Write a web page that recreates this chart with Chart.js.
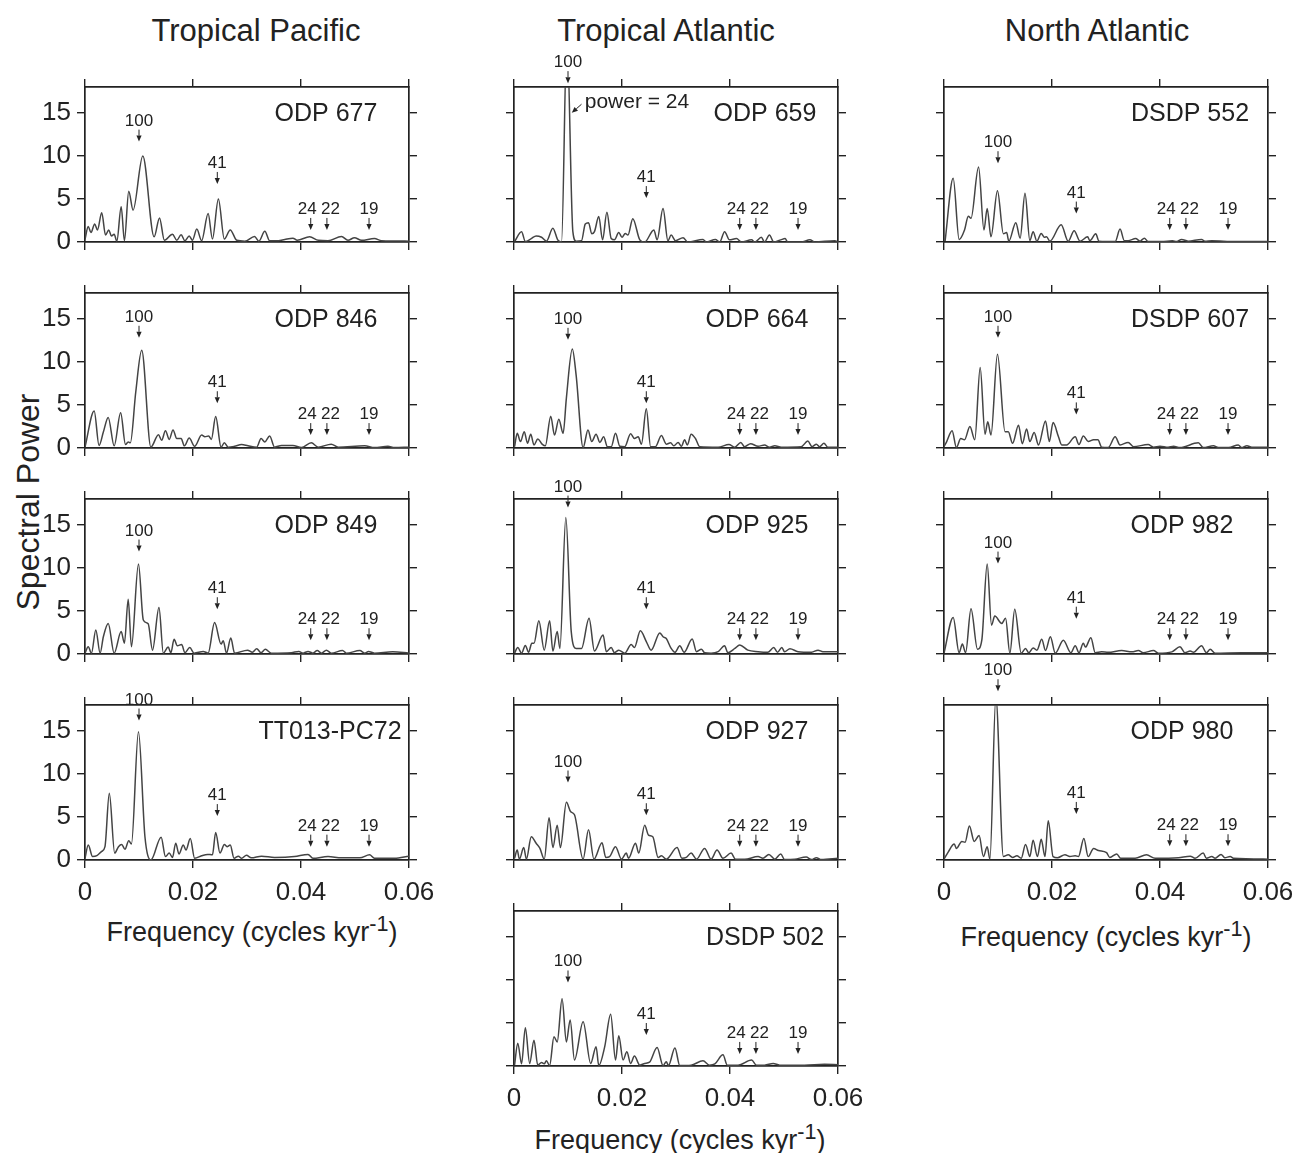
<!DOCTYPE html>
<html>
<head>
<meta charset="utf-8">
<script src="https://cdn.jsdelivr.net/npm/chart.js@4.4.1/dist/chart.umd.min.js"></script>
<style>
body
{
    margin: 0;
    background: #fff;
    width: 1296px;
    height: 1153px;
    position: relative;
    overflow: hidden;
    font-family: "Liberation Sans", Arial, Helvetica, sans-serif;
    color: #222;
}
canvas
{
    position: absolute;
}
.txt
{
    position: absolute;
    white-space: nowrap;
    transform: translate(-50%, -50%);
    line-height: 1;
}
.txt sup
{
    font-size: 0.8em;
    line-height: 0;
    vertical-align: 0.45em;
}
</style>
</head>
<body>
<div class="txt" style="left:256px;top:30px;font-size:31px">Tropical Pacific</div>
<div class="txt" style="left:666px;top:30px;font-size:31px">Tropical Atlantic</div>
<div class="txt" style="left:1097px;top:30px;font-size:31px">North Atlantic</div>
<div class="txt" style="left:28px;top:502px;font-size:32px;transform:translate(-50%,-50%) rotate(-90deg)">Spectral Power</div>
<div class="txt" style="left:252px;top:932px;font-size:27px">Frequency (cycles kyr<sup>-1</sup>)</div>
<div class="txt" style="left:680px;top:1140px;font-size:27px">Frequency (cycles kyr<sup>-1</sup>)</div>
<div class="txt" style="left:1106px;top:937px;font-size:27px">Frequency (cycles kyr<sup>-1</sup>)</div>

<script>
const xTickValues = [0, 0.02, 0.04, 0.06];
const xTickLabels = ["0", "0.02", "0.04", "0.06"];
const yTickValues = [0, 5, 10, 15];
const yTickLabels = ["0", "5", "10", "15"];

// periods (kyr) and the frequencies their arrows point at
const periodLabels = ["100", "41", "24", "22", "19"];
const periodFreqs = [0.0100, 0.0245, 0.0418, 0.0448, 0.0526];

// spectral power, [frequency, power]
const odp677 = [[0,0.3],[0.0006,1.8],[0.0011,1.1],[0.0018,2.1],[0.0023,1.4],[0.0031,3.4],[0.0038,0.8],[0.0044,1.4],[0.0049,0.7],[0.0054,0.9],[0.0059,0.1],[0.0067,4.1],[0.0073,0.15],[0.0081,5.9],[0.0089,3.7],[0.0107,10.0],[0.0128,0.6],[0.0138,2.8],[0.0147,0.2],[0.0162,0.9],[0.0170,0.2],[0.0178,0.85],[0.0185,0.15],[0.0193,0.7],[0.0199,0.2],[0.0207,1.5],[0.0216,0.15],[0.0228,3.3],[0.0236,0.35],[0.0247,5.0],[0.0258,0.35],[0.0269,1.4],[0.0281,0.2],[0.0296,0.1],[0.0314,0.65],[0.0322,0.1],[0.0333,1.25],[0.0342,0.15],[0.0358,0.15],[0.0370,0.3],[0.0385,0.45],[0.0393,0.2],[0.0416,0.6],[0.0432,0.2],[0.0450,0.15],[0.0475,0.65],[0.0487,0.2],[0.0499,0.5],[0.0512,0.2],[0.0536,0.4],[0.0549,0.15],[0.0600,0.1]];

const odp846 = [[0,0.1],[0.0017,4.3],[0.0026,0.3],[0.0034,1.85],[0.0043,3.55],[0.0054,0.25],[0.0066,4.1],[0.0075,0.4],[0.0080,0.7],[0.0084,0.6],[0.0094,6.5],[0.0105,11.35],[0.0122,0.1],[0.0136,1.55],[0.0142,0.9],[0.0149,2.0],[0.0156,1.0],[0.0163,2.1],[0.0170,1.1],[0.0178,1.1],[0.0184,0.25],[0.0193,1.15],[0.0203,0.2],[0.0216,1.5],[0.0222,1.3],[0.0229,1.4],[0.0234,1.0],[0.0242,3.65],[0.0252,0.1],[0.0258,0.6],[0.0265,0.1],[0.0277,0.2],[0.0290,0.4],[0.0302,0.25],[0.0318,0.1],[0.0326,1.1],[0.0333,0.7],[0.0342,1.4],[0.0351,0.1],[0.0364,0.3],[0.0385,0.3],[0.0401,0.05],[0.0419,0.6],[0.0432,0.1],[0.0456,0.45],[0.0469,0.1],[0.0518,0.25],[0.0536,0.05],[0.0561,0.2],[0.0573,0.05],[0.0600,0.1]];

const odp849 = [[0,0.1],[0.0006,0.85],[0.0012,0.1],[0.0020,2.8],[0.0028,0.1],[0.0034,2.0],[0.0043,3.55],[0.0054,0.1],[0.0067,2.6],[0.0073,1.25],[0.0080,6.35],[0.0086,0.85],[0.0099,10.45],[0.0108,3.95],[0.0117,3.5],[0.0125,0.45],[0.0137,5.4],[0.0145,0.1],[0.0154,0.8],[0.0159,0.15],[0.0165,1.7],[0.0171,0.95],[0.0179,1.1],[0.0185,0.15],[0.0194,0.75],[0.0202,0.1],[0.0219,0.3],[0.0228,0.1],[0.0240,3.65],[0.0252,1.15],[0.0256,1.55],[0.0262,0.1],[0.0270,1.85],[0.0277,0.1],[0.0301,0.45],[0.0310,0.2],[0.0318,0.6],[0.0326,0.15],[0.0334,0.55],[0.0345,0.1],[0.0382,0.15],[0.0396,0.3],[0.0404,0.1],[0.0413,0.3],[0.0422,0.1],[0.0430,0.4],[0.0438,0.1],[0.0447,0.45],[0.0456,0.1],[0.0477,0.4],[0.0484,0.1],[0.0509,0.4],[0.0518,0.1],[0.0525,0.3],[0.0536,0.1],[0.0570,0.25],[0.0600,0.1]];

const tt013pc72 = [[0,0.2],[0.0006,1.75],[0.0014,0.4],[0.0022,0.5],[0.0031,1.0],[0.0037,1.55],[0.0045,7.75],[0.0055,0.8],[0.0062,1.55],[0.0068,1.8],[0.0074,1.25],[0.0081,2.25],[0.0086,1.85],[0.0099,14.9],[0.0111,2.7],[0.0122,0],[0.0141,2.65],[0.0149,0.4],[0.0156,0.8],[0.0162,0.3],[0.0168,1.95],[0.0174,0.7],[0.0182,1.75],[0.0187,1.15],[0.0195,2.5],[0.0203,0.2],[0.0216,0.5],[0.0227,0.65],[0.0236,0.6],[0.0242,3.2],[0.0250,0.8],[0.0258,1.8],[0.0263,1.55],[0.0269,1.75],[0.0276,0.2],[0.0284,0.45],[0.0290,0.2],[0.0299,0.55],[0.0308,0.25],[0.0327,0.45],[0.0351,0.3],[0.0388,0.4],[0.0413,0.65],[0.0422,0.2],[0.0450,0.4],[0.0475,0.25],[0.0509,0.25],[0.0527,0.6],[0.0536,0.2],[0.0573,0.2],[0.0600,0.45]];

const odp659 = [[0.0001,0.05],[0.0014,1.2],[0.0021,0.05],[0.0032,0.4],[0.0041,0.7],[0.0051,0.55],[0.0060,0.1],[0.0072,1.6],[0.0081,0.25],[0.0088,0],[0.0098,24],[0.0109,1.2],[0.0115,0.1],[0.0125,0.15],[0.0132,2.1],[0.0138,2.25],[0.0144,0.95],[0.0149,1.2],[0.0157,2.95],[0.0164,0.25],[0.0172,3.45],[0.0180,0.4],[0.0186,0.25],[0.0194,1.1],[0.0200,0.55],[0.0206,1.0],[0.0211,0.8],[0.0220,2.7],[0.0233,0.25],[0.0242,0],[0.0259,1.4],[0.0265,0.25],[0.0276,3.9],[0.0285,0.15],[0.0291,0.8],[0.0299,0.15],[0.0313,0.5],[0.0322,0],[0.0350,0.3],[0.0356,0],[0.0373,0.3],[0.0381,0],[0.0390,1.2],[0.0399,0.25],[0.0412,0.4],[0.0421,0],[0.0440,0.25],[0.0446,0],[0.0458,0.55],[0.0464,0],[0.0473,0.8],[0.0481,0],[0.0494,0.25],[0.0502,0.4],[0.0507,0],[0.0532,0],[0.0548,0.25],[0.0557,0],[0.0594,0.15],[0.0600,0]];

const odp664 = [[0.0001,0.15],[0.0006,1.7],[0.0012,0.75],[0.0019,1.9],[0.0025,0.55],[0.0031,1.6],[0.0037,0.35],[0.0044,1.05],[0.0052,0.45],[0.0058,0.25],[0.0068,3.7],[0.0075,1.5],[0.0083,3.35],[0.0091,1.7],[0.0097,5.8],[0.0108,11.5],[0.0115,8.5],[0.0128,0.05],[0.0137,2.1],[0.0144,0.75],[0.0152,1.6],[0.0159,0.65],[0.0166,1.3],[0.0173,0.15],[0.0180,0.15],[0.0188,1.7],[0.0196,0.2],[0.0205,0.15],[0.0216,1.65],[0.0223,1.1],[0.0230,1.3],[0.0236,0.45],[0.0245,4.55],[0.0253,0.15],[0.0262,0.15],[0.0273,1.45],[0.0282,0.45],[0.0290,0.6],[0.0296,0.25],[0.0304,0.65],[0.0310,0.2],[0.0316,0.95],[0.0321,0.35],[0.0328,1.6],[0.0336,1.1],[0.0344,0.15],[0.0378,0.1],[0.0398,0.4],[0.0409,0.1],[0.0420,0.65],[0.0427,0.15],[0.0438,0.5],[0.0452,0.2],[0.0464,0.35],[0.0473,0.1],[0.0483,0.25],[0.0495,0.1],[0.0532,0.15],[0.0544,0.8],[0.0552,0.15],[0.0560,0.45],[0.0566,0.15],[0.0574,0.55],[0.0581,0.1],[0.0600,0.1]];

const odp925 = [[0.0001,0.1],[0.0007,0.75],[0.0014,0.1],[0.0021,1.0],[0.0027,0.2],[0.0033,1.25],[0.0037,1.25],[0.0046,3.85],[0.0056,0.45],[0.0066,3.85],[0.0072,0.35],[0.0080,2.6],[0.0085,0.65],[0.0096,15.85],[0.0106,2.6],[0.0115,0.65],[0.0125,0.65],[0.0139,4.15],[0.0149,0.35],[0.0165,2.2],[0.0171,0.27],[0.0180,0.75],[0.0186,0.15],[0.0194,0.45],[0.0205,0.1],[0.0217,1.1],[0.0223,0.75],[0.0234,2.7],[0.0245,1.45],[0.0254,0.45],[0.0270,2.45],[0.0276,2.0],[0.0282,1.8],[0.0291,0.65],[0.0298,0.2],[0.0307,0.95],[0.0315,0.2],[0.0330,1.75],[0.0338,0.27],[0.0347,0.55],[0.0353,0.15],[0.0365,0.1],[0.0378,0.27],[0.0390,0.95],[0.0396,0.15],[0.0409,0.65],[0.0418,1.05],[0.0433,0.45],[0.0452,0.27],[0.0470,0.2],[0.0481,0.75],[0.0488,0.2],[0.0496,0.75],[0.0501,0.27],[0.0511,0.6],[0.0526,0.27],[0.0551,0.2],[0.0563,0.45],[0.0572,0.27],[0.0600,0.27]];

const odp927 = [[0.0001,0.2],[0.0006,1.15],[0.0010,0.1],[0.0018,1.45],[0.0023,0.1],[0.0032,2.7],[0.0041,1.95],[0.0048,1.35],[0.0056,0.1],[0.0065,4.9],[0.0072,1.45],[0.0080,4.05],[0.0086,1.45],[0.0097,6.7],[0.0105,5.6],[0.0112,5.25],[0.0128,0.1],[0.0138,3.5],[0.0148,0.1],[0.0163,2.0],[0.0170,0.3],[0.0177,0.4],[0.0188,1.55],[0.0199,0.1],[0.0208,0.8],[0.0212,0.2],[0.0225,1.95],[0.0231,0.8],[0.0242,4.05],[0.0249,2.9],[0.0257,2.7],[0.0267,0.3],[0.0273,0.5],[0.0282,0.1],[0.0302,1.45],[0.0311,0.2],[0.0319,0.3],[0.0328,0.8],[0.0338,0.1],[0.0353,1.35],[0.0365,0.1],[0.0376,1.15],[0.0387,0.2],[0.0402,0.8],[0.0410,0.1],[0.0427,0.08],[0.0452,0.4],[0.0461,0.2],[0.0472,0.65],[0.0483,0.1],[0.0494,0.7],[0.0501,0.05],[0.0520,0.1],[0.0541,0.35],[0.0551,0.05],[0.0560,0.27],[0.0569,0.05],[0.0600,0.2]];

const dsdp502 = [[0.0001,0.1],[0.0007,2.65],[0.0014,0.25],[0.0021,4.45],[0.0029,0.3],[0.0037,3.0],[0.0044,0.1],[0.0051,0.4],[0.0056,0.25],[0.0060,0.6],[0.0066,0.05],[0.0074,3.4],[0.0080,2.8],[0.0089,7.8],[0.0097,2.8],[0.0104,5.35],[0.0112,0.7],[0.0128,5.15],[0.0142,0.3],[0.0152,2.25],[0.0157,0.05],[0.0168,2.25],[0.0179,6.0],[0.0188,0.7],[0.0194,3.5],[0.0202,0.7],[0.0209,1.65],[0.0216,0.3],[0.0223,1.15],[0.0233,0.1],[0.0242,0.3],[0.0251,0.45],[0.0265,2.15],[0.0276,0.05],[0.0282,0.5],[0.0286,0.05],[0.0298,2.1],[0.0307,0.05],[0.0328,0.1],[0.0350,0.6],[0.0362,0.1],[0.0372,0.25],[0.0387,1.3],[0.0395,0.1],[0.0415,0.1],[0.0440,0.7],[0.0449,0.1],[0.0464,0.1],[0.0480,0.3],[0.0492,0.1],[0.0538,0.1],[0.0575,0.2],[0.0600,0.15]];

const dsdp552 = [[0.0002,0.1],[0.0017,7.4],[0.0028,0.3],[0.0038,1.4],[0.0045,3.0],[0.0050,2.75],[0.0064,8.7],[0.0074,1.4],[0.0080,3.9],[0.0087,0.6],[0.0099,5.95],[0.0110,0.95],[0.0116,1.1],[0.0120,0.1],[0.0133,2.25],[0.0141,0.45],[0.0150,5.65],[0.0159,0.15],[0.0165,1.2],[0.0172,0.1],[0.0180,1.0],[0.0186,0.55],[0.0190,0.6],[0.0196,0.1],[0.0217,2.0],[0.0230,0.1],[0.0241,1.3],[0.0252,0.1],[0.0266,0.6],[0.0270,0.15],[0.0281,0.95],[0.0287,0.1],[0.0317,0.05],[0.0326,1.5],[0.0334,0.15],[0.0341,0.15],[0.0355,0.4],[0.0363,0.1],[0.0371,0.45],[0.0378,0.05],[0.0403,0.05],[0.0423,0.15],[0.0431,0.05],[0.0440,0.3],[0.0452,0.1],[0.0477,0.3],[0.0483,0.1],[0.0496,0.15],[0.0539,0.05],[0.0600,0.05]];

const dsdp607 = [[0,0.15],[0.0005,0.75],[0.0015,2.0],[0.0023,0.05],[0.0031,1.1],[0.0038,0.95],[0.0048,2.5],[0.0057,0.95],[0.0067,9.35],[0.0076,1.6],[0.0081,3.05],[0.0087,1.5],[0.0099,10.9],[0.0113,1.9],[0.0119,1.9],[0.0127,0.55],[0.0138,2.65],[0.0145,0.5],[0.0153,2.2],[0.0159,0.75],[0.0167,1.8],[0.0175,0.35],[0.0188,3.15],[0.0195,0.75],[0.0202,2.95],[0.0212,1.3],[0.0218,0.35],[0.0227,0.35],[0.0243,1.3],[0.0250,0.4],[0.0258,1.4],[0.0267,0.75],[0.0277,0.95],[0.0285,0.95],[0.0292,0.1],[0.0304,0.05],[0.0317,1.3],[0.0326,0.35],[0.0341,0.65],[0.0351,0.15],[0.0378,0.4],[0.0388,0.1],[0.0400,0.2],[0.0415,0.08],[0.0425,0.2],[0.0437,0.05],[0.0471,0.6],[0.0480,0.05],[0.0499,0.25],[0.0508,0.05],[0.0527,0.05],[0.0545,0.35],[0.0551,0.05],[0.0561,0.27],[0.0570,0.08],[0.0600,0.08]];

const odp982 = [[0,0.1],[0.0017,4.25],[0.0028,0.15],[0.0034,1.15],[0.0040,0.15],[0.0050,5.25],[0.0062,0.55],[0.0070,1.6],[0.0080,10.45],[0.0088,3.35],[0.0094,4.4],[0.0107,3.55],[0.0114,4.15],[0.0122,0.1],[0.0131,5.2],[0.0143,0.1],[0.0151,0.65],[0.0157,0.15],[0.0165,0.7],[0.0172,0.45],[0.0181,1.7],[0.0188,0.4],[0.0197,2.0],[0.0206,0.1],[0.0221,1.6],[0.0235,0.15],[0.0243,0.95],[0.0250,0.15],[0.0258,1.25],[0.0262,0.8],[0.0272,1.9],[0.0280,0.15],[0.0292,0.25],[0.0304,0.2],[0.0329,0.4],[0.0348,0.25],[0.0360,0.4],[0.0369,0.15],[0.0388,0.4],[0.0397,0.1],[0.0422,0.25],[0.0437,0.85],[0.0446,0.15],[0.0456,0.35],[0.0462,0.2],[0.0477,0.95],[0.0486,0.15],[0.0493,0.55],[0.0502,0.1],[0.0551,0.15],[0.0600,0.15]];

const odp980 = [[0,0.1],[0.0008,0.95],[0.0019,1.85],[0.0023,1.35],[0.0033,2.15],[0.0039,2.05],[0.0047,3.95],[0.0056,2.15],[0.0065,2.85],[0.0073,0.4],[0.0080,1.55],[0.0085,0.1],[0.0096,18.9],[0.0110,0.4],[0.0119,0.6],[0.0127,0.3],[0.0135,0.5],[0.0143,0.2],[0.0151,1.8],[0.0159,0.4],[0.0165,2.3],[0.0173,0.4],[0.0180,2.4],[0.0187,0.4],[0.0193,4.55],[0.0202,0.4],[0.0210,0.27],[0.0224,0.6],[0.0233,0.4],[0.0243,0.5],[0.0249,0.4],[0.0259,2.5],[0.0267,0.4],[0.0277,1.35],[0.0286,1.1],[0.0301,0.85],[0.0307,0.3],[0.0320,0.7],[0.0327,0.2],[0.0354,0.2],[0.0375,0.6],[0.0391,0.2],[0.0434,0.27],[0.0456,0.45],[0.0465,0.2],[0.0480,0.8],[0.0486,0.2],[0.0496,0.4],[0.0502,0.2],[0.0513,0.65],[0.0520,0.27],[0.0530,0.4],[0.0536,0.2],[0.0600,0.1]];

// height (power) of the arrow tips for 100, 41 and the 24/22/19 group
const arrowPower100 = [11.66, 12.8, 11.9, 16.2, 18.45, 12.56, 17.0, 9.0, 9.7, 9.15, 12.8, 10.5, 19.6];
const arrowPower41 = [6.74, 5.2, 5.2, 5.1, 5.1, 5.2, 5.2, 5.2, 3.6, 3.3, 3.9, 4.1, 5.35];
const arrowPowerSmall = [1.4, 1.5, 1.6, 1.55, 1.4, 1.5, 1.6, 1.55, 1.4, 1.4, 1.5, 1.6, 1.6];

const panels =
[
    { name: "ODP 677", data: odp677, col: 0, row: 0, labelOffset: 241 },
    { name: "ODP 846", data: odp846, col: 0, row: 1, labelOffset: 241 },
    { name: "ODP 849", data: odp849, col: 0, row: 2, labelOffset: 241 },
    { name: "TT013-PC72", data: tt013pc72, col: 0, row: 3, labelOffset: 245, xLabels: true },
    { name: "ODP 659", data: odp659, col: 1, row: 0, labelOffset: 251, note: true },
    { name: "ODP 664", data: odp664, col: 1, row: 1, labelOffset: 243 },
    { name: "ODP 925", data: odp925, col: 1, row: 2, labelOffset: 243 },
    { name: "ODP 927", data: odp927, col: 1, row: 3, labelOffset: 243 },
    { name: "DSDP 502", data: dsdp502, col: 1, row: 4, labelOffset: 251, xLabels: true },
    { name: "DSDP 552", data: dsdp552, col: 2, row: 0, labelOffset: 246 },
    { name: "DSDP 607", data: dsdp607, col: 2, row: 1, labelOffset: 246 },
    { name: "ODP 982", data: odp982, col: 2, row: 2, labelOffset: 238 },
    { name: "ODP 980", data: odp980, col: 2, row: 3, labelOffset: 238, xLabels: true }
];

const FONT = "'Liberation Sans', Arial, Helvetica, sans-serif";
const INK = "#222";
const LINE = "#444";

const colLeft = [85, 514, 944];
const rowTop = [87, 293, 499, 705, 911];
const PLOT_W = 324;
const PLOT_H = 155;
const PAD_L = 62;
const PAD_R = 40;
const PAD_T = 50;
const PAD_B = 50;

const periodLabelShift = [0, 0, -3.5, 3.5, 0];

function drawArrow(ctx, x1, y1, x2, y2)
{
    const ang = Math.atan2(y2 - y1, x2 - x1);
    const head = 6;
    const half = 2.6;

    ctx.beginPath();
    ctx.moveTo(x1, y1);
    ctx.lineTo(x2 - Math.cos(ang) * head, y2 - Math.sin(ang) * head);
    ctx.stroke();

    ctx.beginPath();
    ctx.moveTo(x2, y2);
    ctx.lineTo(x2 - Math.cos(ang) * head - Math.sin(ang) * half, y2 - Math.sin(ang) * head + Math.cos(ang) * half);
    ctx.lineTo(x2 - Math.cos(ang) * head + Math.sin(ang) * half, y2 - Math.sin(ang) * head - Math.cos(ang) * half);
    ctx.closePath();
    ctx.fill();
}

const panelMarks =
{
    id: "panelMarks",
    afterDraw(chart, args, opts)
    {
        const ctx = chart.ctx;
        const xs = chart.scales.x;
        const ys = chart.scales.y;
        const area = chart.chartArea;

        ctx.save();
        ctx.fillStyle = INK;
        ctx.strokeStyle = INK;
        ctx.lineWidth = 1;

        ctx.font = "25px " + FONT;
        ctx.textAlign = "center";
        ctx.textBaseline = "middle";
        ctx.fillText(opts.name, area.left + opts.labelOffset, area.top + 27);

        ctx.font = "17px " + FONT;
        ctx.textBaseline = "alphabetic";

        periodLabels.forEach((label, i) =>
        {
            let power = opts.arrowSmall;

            if (i === 0)
            {
                power = opts.arrow100;
            }
            else if (i === 1)
            {
                power = opts.arrow41;
            }

            const x = xs.getPixelForValue(periodFreqs[i]);
            const tipY = ys.getPixelForValue(power);

            drawArrow(ctx, x, tipY - 12, x, tipY);
            ctx.fillText(label, x + periodLabelShift[i], tipY - 16);
        });

        if (opts.note)
        {
            const tx = xs.getPixelForValue(0.0125);
            const ty = ys.getPixelForValue(16.0);
            drawArrow(ctx, tx, ty, xs.getPixelForValue(0.0107), ys.getPixelForValue(15.0));

            ctx.font = "21px " + FONT;
            ctx.textAlign = "left";
            ctx.textBaseline = "middle";
            ctx.fillText("power = 24", xs.getPixelForValue(0.0131), ys.getPixelForValue(16.2));
        }

        ctx.restore();
    }
};

function axisGrid()
{
    return {
        drawOnChartArea: false,
        drawTicks: true,
        tickLength: 8,
        color: INK,
        lineWidth: 1.4
    };
}

function axisBorder()
{
    return {
        display: true,
        color: INK,
        width: 1.7
    };
}

function createPanel(panel, index)
{
    const canvas = document.createElement("canvas");
    const w = PAD_L + PLOT_W + PAD_R;
    const h = PAD_T + PLOT_H + PAD_B;

    canvas.width = w;
    canvas.height = h;
    canvas.style.width = w + "px";
    canvas.style.height = h + "px";
    canvas.style.left = (colLeft[panel.col] - PAD_L) + "px";
    canvas.style.top = (rowTop[panel.row] - PAD_T) + "px";
    document.body.appendChild(canvas);

    const showY = panel.col === 0;
    const showX = Boolean(panel.xLabels);

    return new Chart(canvas.getContext("2d"),
    {
        type: "line",
        data:
        {
            datasets:
            [
                {
                    data: panel.data.map((p) =>
                    {
                        return { x: p[0], y: p[1] };
                    }),
                    borderColor: LINE,
                    borderWidth: 1.5,
                    pointRadius: 0,
                    fill: false,
                    cubicInterpolationMode: "monotone"
                }
            ]
        },
        options:
        {
            responsive: false,
            animation: false,
            devicePixelRatio: 1,
            layout:
            {
                padding: 0
            },
            plugins:
            {
                legend: { display: false },
                tooltip: { enabled: false },
                panelMarks:
                {
                    name: panel.name,
                    labelOffset: panel.labelOffset,
                    arrow100: arrowPower100[index],
                    arrow41: arrowPower41[index],
                    arrowSmall: arrowPowerSmall[index],
                    note: Boolean(panel.note)
                }
            },
            scales:
            {
                x:
                {
                    type: "linear",
                    position: "bottom",
                    min: 0,
                    max: 0.06,
                    afterBuildTicks(scale)
                    {
                        scale.ticks = xTickValues.map((v) =>
                        {
                            return { value: v };
                        });
                    },
                    afterFit(scale)
                    {
                        scale.height = PAD_B;
                    },
                    ticks:
                    {
                        display: showX,
                        color: INK,
                        padding: 9,
                        maxRotation: 0,
                        font: { family: FONT, size: 26 },
                        callback(value, i)
                        {
                            return xTickLabels[i];
                        }
                    },
                    grid: axisGrid(),
                    border: axisBorder()
                },
                x2:
                {
                    type: "linear",
                    axis: "x",
                    position: "top",
                    min: 0,
                    max: 0.06,
                    afterBuildTicks(scale)
                    {
                        scale.ticks = xTickValues.map((v) =>
                        {
                            return { value: v };
                        });
                    },
                    afterFit(scale)
                    {
                        scale.height = PAD_T;
                    },
                    ticks: { display: false },
                    grid: axisGrid(),
                    border: axisBorder()
                },
                y:
                {
                    type: "linear",
                    position: "left",
                    min: 0,
                    max: 18,
                    afterBuildTicks(scale)
                    {
                        scale.ticks = yTickValues.map((v) =>
                        {
                            return { value: v };
                        });
                    },
                    afterFit(scale)
                    {
                        scale.width = PAD_L;
                    },
                    ticks:
                    {
                        display: showY,
                        color: INK,
                        padding: 6,
                        font: { family: FONT, size: 26 },
                        callback(value, i)
                        {
                            return yTickLabels[i];
                        }
                    },
                    grid: axisGrid(),
                    border: axisBorder()
                },
                y2:
                {
                    type: "linear",
                    axis: "y",
                    position: "right",
                    min: 0,
                    max: 18,
                    afterBuildTicks(scale)
                    {
                        scale.ticks = yTickValues.map((v) =>
                        {
                            return { value: v };
                        });
                    },
                    afterFit(scale)
                    {
                        scale.width = PAD_R;
                    },
                    ticks: { display: false },
                    grid: axisGrid(),
                    border: axisBorder()
                }
            }
        },
        plugins: [panelMarks]
    });
}

panels.forEach((panel, index) =>
{
    createPanel(panel, index);
});
</script>
</body>
</html>
